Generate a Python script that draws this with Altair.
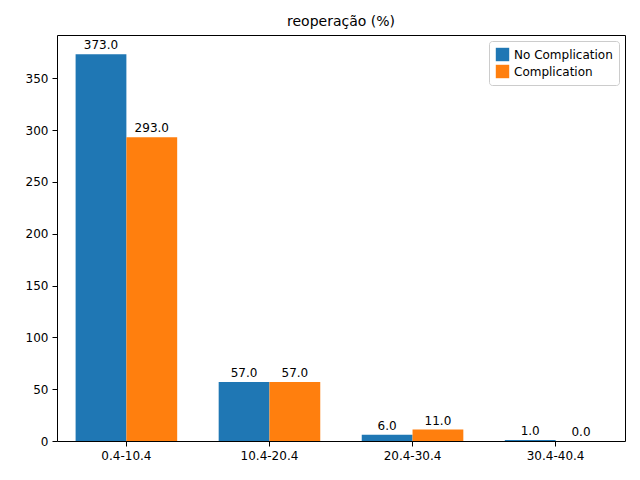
import altair as alt
import pandas as pd

categorias = ["0.4-10.4", "10.4-20.4", "20.4-30.4", "30.4-40.4"]
no_complication = [373, 57, 6, 1]
complication = [293, 57, 11, 0]
grupos = ["No Complication", "Complication"]

rows = []
for c, a, b in zip(categorias, no_complication, complication):
    rows.append({"faixa": c, "grupo": grupos[0], "valor": a})
    rows.append({"faixa": c, "grupo": grupos[1], "valor": b})
df = pd.DataFrame(rows)
df["rotulo"] = df["valor"].map(lambda v: f"{v:.1f}")

x = alt.X("faixa:N", sort=categorias, title=None,
          scale=alt.Scale(paddingInner=0.29, paddingOuter=0.13),
          axis=alt.Axis(labelAngle=0, labelFontSize=12, labelColor="black",
                        tickColor="black", domain=False, labelPadding=4))
xoff = alt.XOffset("grupo:N", sort=grupos, scale=alt.Scale(paddingInner=0, paddingOuter=0))
y = alt.Y("valor:Q", title=None, scale=alt.Scale(domain=[0, 391.65], nice=False),
          axis=alt.Axis(values=[0, 50, 100, 150, 200, 250, 300, 350], grid=False,
                        labelFontSize=12, labelColor="black", tickColor="black",
                        domain=False, labelPadding=4))

base = alt.Chart(df).encode(x=x, xOffset=xoff, y=y)

bars = base.mark_bar().encode(
    color=alt.Color("grupo:N", sort=grupos, title=None,
                    scale=alt.Scale(domain=grupos, range=["#1f77b4", "#ff7f0e"]),
                    legend=alt.Legend(orient="top-right", symbolType="square",
                                      symbolSize=180, labelFontSize=12,
                                      labelColor="black", padding=6,
                                      strokeColor="#cccccc", fillColor="white",
                                      cornerRadius=3, offset=6))
)
labels = base.mark_text(dy=-9, fontSize=12, color="black").encode(text="rotulo:N")

chart = (bars + labels).properties(
    width=568, height=406,
    title=alt.TitleParams("reoperação (%)", fontSize=14, fontWeight="normal", offset=6),
    autosize=alt.AutoSizeParams(type="none"),
    padding={"left": 49, "top": 27, "right": 7, "bottom": 31},
).configure(font="DejaVu Sans").configure_view(stroke="#000000", strokeWidth=1)

chart.save("out.html", embed_options={"renderer": "svg", "actions": False})
